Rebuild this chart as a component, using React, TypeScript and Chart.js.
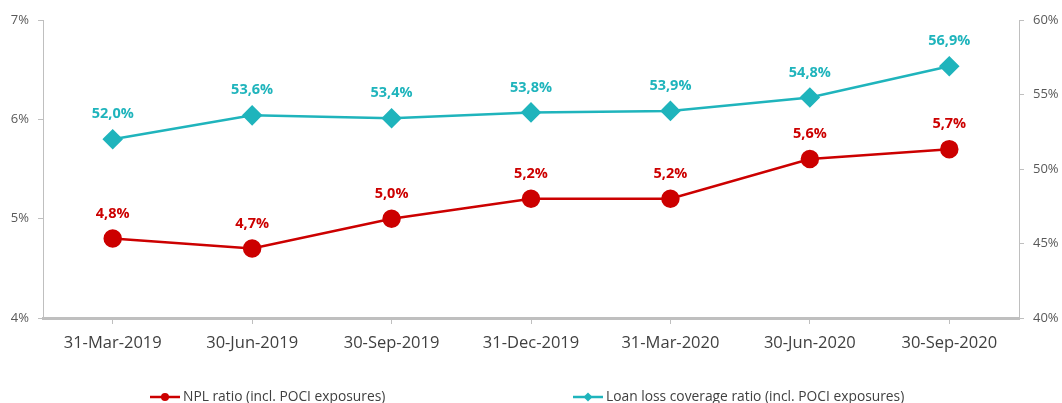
import React, { useEffect, useRef } from "react";
import { Chart, registerables } from "chart.js";

Chart.register(...registerables);

const categories = ["31-Mar-2019", "30-Jun-2019", "30-Sep-2019", "31-Dec-2019", "31-Mar-2020", "30-Jun-2020", "30-Sep-2020"];
const nplRatio = [4.8, 4.7, 5.0, 5.2, 5.2, 5.6, 5.7];
const coverageRatio = [52.0, 53.6, 53.4, 53.8, 53.9, 54.8, 56.9];
const nplLabel = "NPL ratio (incl. POCI exposures)";
const coverageLabel = "Loan loss coverage ratio (incl. POCI exposures)";

const RED = "#CC0000";
const TEAL = "#1FB4BC";
const AXIS = "#BFBFBF";
const FONT = "'Open Sans', 'Noto Sans', sans-serif";

const fmt = (v: number) => v.toFixed(1).replace(".", ",") + "%";

const dataLabelPlugin = {
  id: "dataLabels",
  afterDatasetsDraw(chart: any) {
    const ctx = chart.ctx;
    ctx.save();
    ctx.font = `bold 14.5px ${FONT}`;
    ctx.textAlign = "center";
    ctx.textBaseline = "middle";
    chart.data.datasets.forEach((ds: any, i: number) => {
      const meta = chart.getDatasetMeta(i);
      ctx.fillStyle = ds.borderColor;
      meta.data.forEach((pt: any, j: number) => {
        ctx.fillText(fmt(ds.data[j]), pt.x, pt.y - 25);
      });
    });
    ctx.restore();
  },
};

const legendPlugin = {
  id: "customLegend",
  afterDraw(chart: any) {
    const ctx = chart.ctx;
    const y = 397;
    const items = [
      { x: 150, color: RED, label: nplLabel, style: "circle" },
      { x: 573, color: TEAL, label: coverageLabel, style: "diamond" },
    ];
    ctx.save();
    ctx.font = `13.8px ${FONT}`;
    ctx.textBaseline = "middle";
    ctx.textAlign = "left";
    items.forEach((it) => {
      ctx.strokeStyle = it.color;
      ctx.fillStyle = it.color;
      ctx.lineWidth = 2.5;
      ctx.beginPath();
      ctx.moveTo(it.x, y);
      ctx.lineTo(it.x + 30, y);
      ctx.stroke();
      const cx = it.x + 15;
      ctx.beginPath();
      if (it.style === "circle") {
        ctx.arc(cx, y, 4, 0, Math.PI * 2);
      } else {
        ctx.moveTo(cx, y - 4.5);
        ctx.lineTo(cx + 4.5, y);
        ctx.lineTo(cx, y + 4.5);
        ctx.lineTo(cx - 4.5, y);
        ctx.closePath();
      }
      ctx.fill();
      ctx.fillStyle = "#404040";
      ctx.fillText(it.label, it.x + 33, y);
    });
    ctx.restore();
  },
};

export default function App() {
  const ref = useRef<HTMLCanvasElement>(null);

  useEffect(() => {
    document.body.style.margin = "0";
    const canvas = ref.current!;
    const chart = new Chart(canvas, {
      type: "line",
      data: {
        labels: categories,
        datasets: [
          {
            label: nplLabel,
            data: nplRatio,
            yAxisID: "y",
            borderColor: RED,
            backgroundColor: RED,
            borderWidth: 2.5,
            pointStyle: "circle",
            pointRadius: 8,
            pointHoverRadius: 8,
            tension: 0,
          },
          {
            label: coverageLabel,
            data: coverageRatio,
            yAxisID: "y2",
            borderColor: TEAL,
            backgroundColor: TEAL,
            borderWidth: 2.5,
            pointStyle: "rectRot",
            pointRadius: 8.5,
            pointHoverRadius: 8.5,
            tension: 0,
          },
        ],
      },
      options: {
        animation: false,
        responsive: false,
        maintainAspectRatio: false,
        layout: { padding: { top: 20, left: 0, right: 0, bottom: 0 } },
        plugins: {
          legend: { display: false },
          tooltip: { enabled: false },
        },
        scales: {
          x: {
            offset: true,
            grid: { drawOnChartArea: false, drawTicks: true, tickLength: 6, color: AXIS, offset: false },
            border: { color: AXIS, width: 3 },
            ticks: { color: "#404040", font: { family: FONT, size: 16.5 }, padding: 9, maxRotation: 0 },
            afterFit(scale: any) {
              scale.height = 85;
            },
          },
          y: {
            position: "left",
            min: 4,
            max: 7,
            ticks: { stepSize: 1, color: "#595959", font: { family: FONT, size: 13 }, padding: 9, callback: (v: any) => v + "%" },
            grid: { drawOnChartArea: false, tickLength: 5, color: AXIS },
            border: { color: AXIS, width: 1 },
            afterFit(scale: any) {
              scale.width = 43;
            },
          },
          y2: {
            position: "right",
            min: 40,
            max: 60,
            ticks: { stepSize: 5, color: "#595959", font: { family: FONT, size: 13 }, padding: 9, callback: (v: any) => v + "%" },
            grid: { drawOnChartArea: false, tickLength: 5, color: AXIS },
            border: { color: AXIS, width: 1 },
            afterFit(scale: any) {
              scale.width = 43;
            },
          },
        },
      },
      plugins: [dataLabelPlugin, legendPlugin],
    });
    return () => chart.destroy();
  }, []);

  return <canvas ref={ref} width={1062} height={403} style={{ display: "block" }} />;
}
